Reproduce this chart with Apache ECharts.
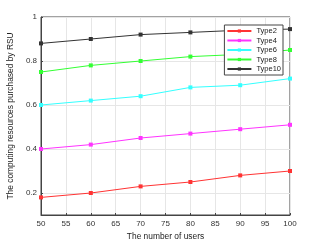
<!DOCTYPE html>
<html><head><meta charset="utf-8">
<script src="https://cdn.jsdelivr.net/npm/echarts@6/dist/echarts.min.js"></script>
<style>html,body{margin:0;padding:0;background:#fff}#c{width:321px;height:241px}</style>
</head><body><div id="c"></div>
<script>
const users = [50, 60, 70, 80, 90, 100];
const xTicks = [50, 55, 60, 65, 70, 75, 80, 85, 90, 95, 100];
const yTicks = [0.2, 0.4, 0.6, 0.8, 1];
const type2 = [0.18, 0.20, 0.23, 0.25, 0.28, 0.30];
const type4 = [0.40, 0.42, 0.45, 0.47, 0.49, 0.51];
const type6 = [0.60, 0.62, 0.64, 0.68, 0.69, 0.72];
const type8 = [0.75, 0.78, 0.80, 0.82, 0.83, 0.85];
const type10 = [0.88, 0.90, 0.92, 0.93, 0.94, 0.945];
const names = ['Type2', 'Type4', 'Type6', 'Type8', 'Type10'];
const colors = ['#ff3333', '#ff33ff', '#33ffff', '#33ff33', '#333333'];
const values = [type2, type4, type6, type8, type10];

const font = 'Liberation Sans, Arial, sans-serif';
const chart = echarts.init(document.getElementById('c'), null, {renderer: 'canvas'});
chart.setOption({
  animation: false,
  backgroundColor: '#fff',
  textStyle: {fontFamily: font},
  grid: {left: 41, right: 31, top: 17, bottom: 26, containLabel: false, outerBoundsMode: 'none',
    show: true, borderColor: '#444', borderWidth: 1, backgroundColor: 'transparent'},
  legend: {
    right: 38, top: 25, orient: 'vertical',
    data: names,
    itemWidth: 24, itemHeight: 4, itemGap: 1.5,
    backgroundColor: '#fff', borderColor: '#444', borderWidth: 1,
    padding: [2, 2, 2, 2],
    textStyle: {fontSize: 7.5, lineHeight: 8, color: '#222', fontFamily: font}
  },
  xAxis: {
    type: 'value', min: 50, max: 100, interval: 5,
    name: 'The number of users', nameLocation: 'middle', nameGap: 15,
    nameTextStyle: {fontSize: 8.4, color: '#222'},
    axisLine: {lineStyle: {color: '#444'}},
    axisTick: {inside: true, length: 2, lineStyle: {color: '#444'}},
    axisLabel: {fontSize: 8, color: '#333', margin: 5, customValues: xTicks},
    splitLine: {lineStyle: {color: '#e6e6e6'}}
  },
  yAxis: {
    type: 'value', min: 0.1, max: 1,
    name: 'The computing resources purchased by RSU', nameLocation: 'middle', nameGap: 18,
    nameTextStyle: {fontSize: 8.4, color: '#222'},
    axisLine: {lineStyle: {color: '#444'}},
    axisTick: {inside: true, length: 2, lineStyle: {color: '#444'}, customValues: yTicks},
    axisLabel: {fontSize: 8, color: '#333', margin: 4, customValues: yTicks, formatter: v => String(+v.toFixed(1))},
    splitLine: {lineStyle: {color: '#e6e6e6'}}
  },
  series: names.map((n, i) => ({
    name: n, type: 'line',
    data: users.map((u, j) => [u, values[i][j]]),
    symbol: 'rect', symbolSize: 4, showSymbol: true,
    itemStyle: {color: colors[i]},
    lineStyle: {color: colors[i], width: 1},
    z: 2
  }))
});
</script></body></html>
